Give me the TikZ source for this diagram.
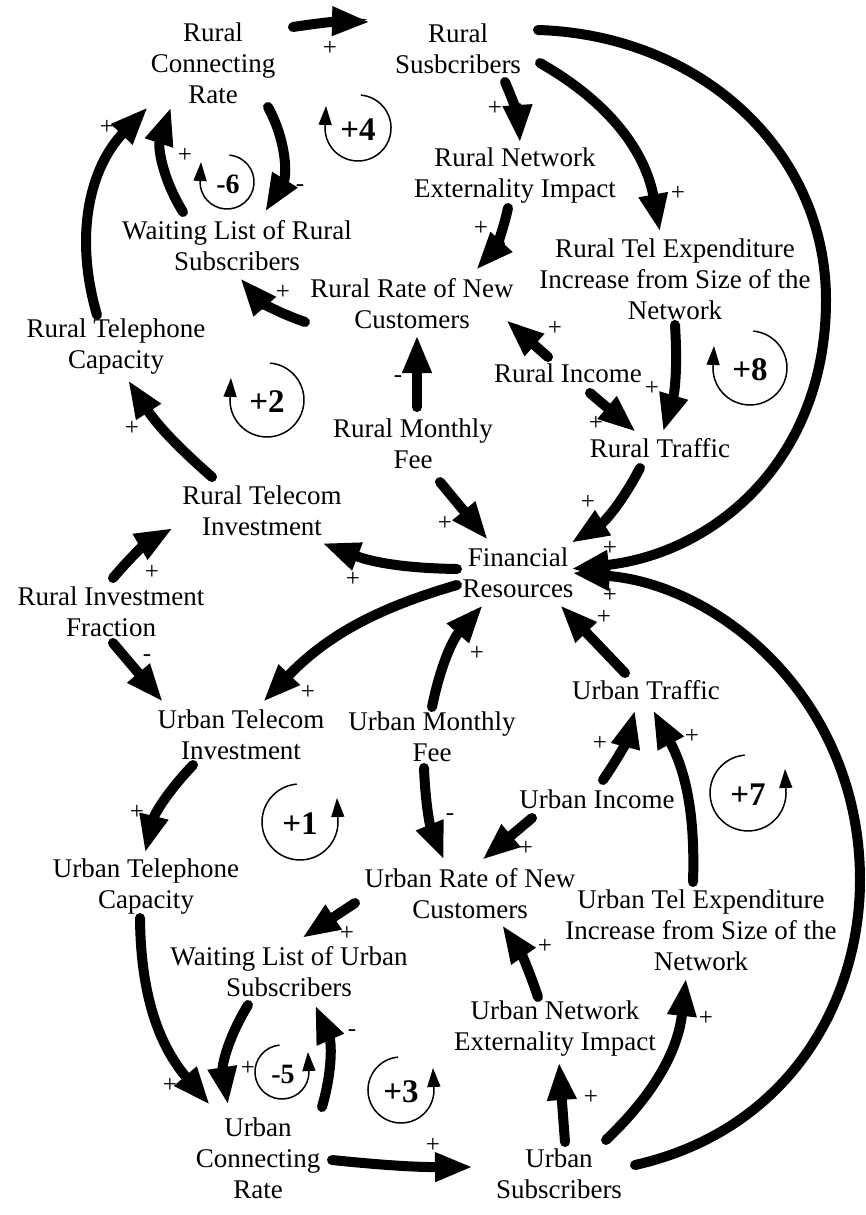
\documentclass[tikz,border=0pt]{standalone}
\usepackage{fontspec}
\setmainfont{Liberation Serif}
\usetikzlibrary{arrows.meta,calc}
\begin{document}
\begin{tikzpicture}[x=1pt,y=-1pt,
  var/.style={align=center,inner sep=0pt,font=\fontsize{27}{31}\selectfont},
  link/.style={line width=10pt,line cap=round,-{Triangle[length=38pt,width=27pt]}},
  pol/.style={inner sep=0pt,font=\fontsize{25}{25}\selectfont},
  loopl/.style={inner sep=0pt,font=\fontsize{33}{33}\selectfont\bfseries},
  loopm/.style={inner sep=0pt,font=\fontsize{28}{28}\selectfont\bfseries},
  loopa/.style={line width=1.5pt,-{Triangle[length=19pt,width=13pt]}}]
\useasboundingbox (0,0) rectangle (866,1215);
% variables
\node[var] (rcr) at (213,63) {Rural\\Connecting\\Rate};
\node[var] (rs) at (458,49) {Rural\\Susbcribers};
\node[var] (rnei) at (515,176) {Rural Network\\Externality Impact};
\node[var] (rte) at (675,279) {Rural Tel Expenditure\\Increase from Size of the\\Network};
\node[var] (wlr) at (237,246) {Waiting List of Rural\\Subscribers};
\node[var] (rrnc) at (412,304) {Rural Rate of New\\Customers};
\node[var] (rtc) at (116,347) {Rural Telephone\\Capacity};
\node[var] (ri) at (568,373) {Rural Income};
\node[var] (rmf) at (413,444) {Rural Monthly\\Fee};
\node[var] (rt) at (660,448) {Rural Traffic};
\node[var] (rti) at (262,511) {Rural Telecom\\Investment};
\node[var] (fr) at (518,573) {Financial\\Resources};
\node[var] (rif) at (111,612) {Rural Investment\\Fraction};
\node[var] (uti) at (241,735) {Urban Telecom\\Investment};
\node[var] (umf) at (432,737) {Urban Monthly\\Fee};
\node[var] (ut) at (646,690) {Urban Traffic};
\node[var] (ui) at (597,799) {Urban Income};
\node[var] (utc) at (146,887) {Urban Telephone\\Capacity};
\node[var] (urnc) at (470,894) {Urban Rate of New\\Customers};
\node[var] (ute) at (701,930) {Urban Tel Expenditure\\Increase from Size of the\\Network};
\node[var] (wlu) at (289,972) {Waiting List of Urban\\Subscribers};
\node[var] (unei) at (555,1029) {Urban Network\\Externality Impact};
\node[var] (ucr) at (258,1158) {Urban\\Connecting\\Rate};
\node[var] (us) at (559,1174) {Urban\\Subscribers};
% links
\draw[link] ($(rcr)+(80,-36)$) to[bend left=5] ($(rs)+(-88,-27)$);
\draw[link] ($(rs)+(47,33)$) to[bend left=10] ($(rnei)+(5,-33)$);
\draw[link] ($(rs)+(82,14)$) to[bend left=25] ($(rte)+(-15,-47)$);
\draw[link] ($(rs)+(80,-19)$) .. controls (700,35) and (826,150) .. (826,300) .. controls (826,460) and (715,553) .. ($(fr)+(53,-4)$);
\draw[link] ($(rnei)+(-7,32)$) to[bend left=15] ($(rrnc)+(64,-34)$);
\draw[link] ($(rcr)+(55,44)$) to[bend left=30] ($(wlr)+(28,-34)$);
\draw[link] ($(wlr)+(-54,-34)$) to[bend left=25] ($(rcr)+(-42,44)$);
\draw[link] ($(rtc)+(-19,-32)$) to[bend left=30] ($(rcr)+(-65,44)$);
\draw[link] ($(rrnc)+(-107,18)$) to[bend left=15] ($(wlr)+(3,32)$);
\draw[link] ($(rmf)+(4,-37)$) -- ($(rrnc)+(5,31)$);
\draw[link] ($(ri)+(-20,-16)$) -- ($(rrnc)+(94,16)$);
\draw[link] ($(ri)+(22,20)$) -- ($(rt)+(-24,-16)$);
\draw[link] ($(rte)+(0,46)$) to[bend left=10] ($(rt)+(3,-16)$);
\draw[link] ($(rt)+(-20,20)$) to[bend left=15] ($(fr)+(53,-30)$);
\draw[link] ($(rmf)+(27,38)$) -- ($(fr)+(-30,-33)$);
\draw[link] ($(fr)+(-61,-4)$) to[bend left=10] ($(rti)+(60,32)$);
\draw[link] ($(rti)+(-50,-34)$) to[bend left=8] ($(rtc)+(12,33)$);
\draw[link] ($(rif)+(2,-34)$) to[bend left=10] ($(rti)+(-89,17)$);
\draw[link] ($(rif)+(2,31)$) -- ($(uti)+(-78,-33)$);
\draw[link] ($(fr)+(-61,12)$) to[bend right=15] ($(uti)+(22,-33)$);
\draw[link] ($(umf)+(0,-30)$) to[bend left=15] ($(fr)+(-35,32)$);
\draw[link] ($(ut)+(-21,-17)$) -- ($(fr)+(42,32)$);
\draw[link] ($(us)+(76,-9)$) .. controls (790,1130) and (860,1000) .. (860,880) .. controls (860,700) and (720,585) .. ($(fr)+(54,0)$);
\draw[link] ($(ui)+(6,-19)$) to[bend right=10] ($(ut)+(-11,20)$);
\draw[link] ($(ute)+(-8,-48)$) to[bend right=15] ($(ut)+(7,20)$);
\draw[link] ($(ui)+(-65,19)$) -- ($(urnc)+(12,-34)$);
\draw[link] ($(umf)+(-8,31)$) to[bend right=10] ($(urnc)+(-26,-34)$);
\draw[link] ($(uti)+(-48,30)$) to[bend right=15] ($(utc)+(-1,-34)$);
\draw[link] ($(urnc)+(-115,9)$) -- ($(wlu)+(13,-34)$);
\draw[link] ($(unei)+(-17,-32)$) to[bend right=8] ($(urnc)+(32,31)$);
\draw[link] ($(utc)+(-6,31)$) to[bend right=20] ($(ucr)+(-48,-53)$);
\draw[link] ($(wlu)+(-41,33)$) to[bend right=20] ($(ucr)+(-30,-53)$);
\draw[link] ($(ucr)+(64,-51)$) to[bend right=20] ($(wlu)+(26,33)$);
\draw[link] ($(ucr)+(74,2)$) to[bend right=3] ($(us)+(-86,-7)$);
\draw[link] ($(us)+(6,-32)$) -- ($(unei)+(4,33)$);
\draw[link] ($(us)+(47,-34)$) to[bend right=20] ($(ute)+(-15,48)$);
% polarities
\node[pol] (p1) at (330,48) {+};
\node[pol] (p2) at (495,108) {+};
\node[pol] (p3) at (678,193) {+};
\node[pol] (p5) at (481,228) {+};
\node[pol] (p6) at (300,188) {-};
\node[pol] (p7) at (185,155) {+};
\node[pol] (p8) at (107,127) {+};
\node[pol] (p9) at (283,292) {+};
\node[pol] (p10) at (398,379) {-};
\node[pol] (p11) at (555,328) {+};
\node[pol] (p12) at (596,423) {+};
\node[pol] (p13) at (652,388) {+};
\node[pol] (p14) at (588,502) {+};
\node[pol] (p15) at (445,523) {+};
\node[pol] (p4) at (610,548) {+};
\node[pol] (p16) at (353,579) {+};
\node[pol] (p17) at (132,428) {+};
\node[pol] (p18) at (152,572) {+};
\node[pol] (p19) at (147,658) {-};
\node[pol] (p20) at (308,692) {+};
\node[pol] (p21) at (477,653) {+};
\node[pol] (p22) at (604,617) {+};
\node[pol] (p23) at (610,595) {+};
\node[pol] (p24) at (600,743) {+};
\node[pol] (p25) at (692,736) {+};
\node[pol] (p26) at (526,848) {+};
\node[pol] (p27) at (450,817) {-};
\node[pol] (p28) at (137,812) {+};
\node[pol] (p29) at (347,933) {+};
\node[pol] (p30) at (545,946) {+};
\node[pol] (p31) at (170,1085) {+};
\node[pol] (p32) at (248,1068) {+};
\node[pol] (p33) at (352,1033) {-};
\node[pol] (p34) at (433,1145) {+};
\node[pol] (p35) at (591,1097) {+};
\node[pol] (p36) at (706,1018) {+};
% loop markers
\draw[loopa] (360.9,95.1) arc[start angle=85,end angle=-180,radius=33pt] -- ++(1,-22);
\node[loopl] (l4) at (358,130) {+4};
\draw[loopa] (229.4,155.1) arc[start angle=85,end angle=-180,radius=27pt] -- ++(1,-20);
\node[loopm] (l6) at (228,184) {-6};
\draw[loopa] (270.2,363.1) arc[start angle=85,end angle=-180,radius=37pt] -- ++(1,-22);
\node[loopl] (l2) at (267,402) {+2};
\draw[loopa] (753.2,331.1) arc[start angle=85,end angle=-180,radius=37pt] -- ++(1,-22);
\node[loopl] (l8) at (750,370) {+8};
\draw[loopa] (296.7,784.1) arc[start angle=95,end angle=360,radius=38pt] -- ++(-1,-24);
\node[loopl] (l1) at (300,824) {+1};
\draw[loopa] (744.7,755.1) arc[start angle=95,end angle=360,radius=38pt] -- ++(-1,-24);
\node[loopl] (l7) at (748,795) {+7};
\draw[loopa] (279.6,1045.1) arc[start angle=95,end angle=360,radius=27pt] -- ++(-1,-20);
\node[loopm] (l5) at (283,1074) {-5};
\draw[loopa] (398.1,1057.1) arc[start angle=95,end angle=360,radius=33pt] -- ++(-1,-22);
\node[loopl] (l3) at (401,1092) {+3};
\end{tikzpicture}
\end{document}
